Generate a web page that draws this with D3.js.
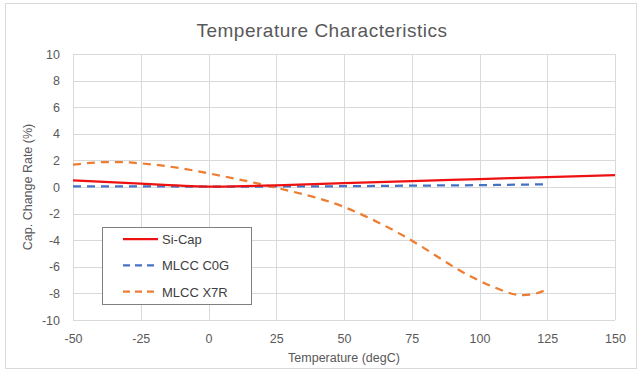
<!DOCTYPE html>
<html>
<head>
<meta charset="utf-8">
<script src="https://cdn.jsdelivr.net/npm/d3@7"></script>
<style>
  body { margin: 0; background: #fff; }
  svg { display: block; font-family: "Liberation Sans", Arial, sans-serif; }
</style>
</head>
<body>
<svg width="644" height="376"></svg>
<script>
// data
var xTicks = [-50, -25, 0, 25, 50, 75, 100, 125, 150];
var yTicks = [-10, -8, -6, -4, -2, 0, 2, 4, 6, 8, 10];

var siCapTemp = [-50, -25, 0, 25, 50, 75, 100, 125, 150];
var siCapVal  = [0.5, 0.25, 0.03, 0.13, 0.3, 0.45, 0.6, 0.75, 0.9];

var c0gTemp = [-50, -25, 0, 25, 50, 75, 100, 125];
var c0gVal  = [0.05, 0.05, 0.03, 0.04, 0.06, 0.1, 0.14, 0.2];

var x7rTemp = [-50, -40, -30, -20, -10, 0, 10, 20, 30, 40, 50, 60, 70, 80, 90, 100, 110, 115, 120, 125];
var x7rVal  = [1.68, 1.86, 1.85, 1.68, 1.4, 1.03, 0.62, 0.18, -0.3, -0.82, -1.5, -2.4, -3.45, -4.65, -5.95, -7.05, -7.9, -8.12, -8.05, -7.7];

var seriesNames = ["Si-Cap", "MLCC C0G", "MLCC X7R"];

var svg = d3.select("svg");
var margin = {top: 54, right: 29, bottom: 56, left: 73};
var W = 644, H = 376;

// chart frame
svg.append("rect")
  .attr("x", 5.5).attr("y", 3.5)
  .attr("width", 631).attr("height", 365)
  .attr("fill", "#fff").attr("stroke", "#d9d9d9");

var x = d3.scaleLinear().domain([-50, 150]).range([margin.left, W - margin.right]);
var y = d3.scaleLinear().domain([-10, 10]).range([H - margin.bottom, margin.top]);

// grid
var grid = svg.append("g");
grid.selectAll(".gx").data(xTicks).enter().append("line")
  .attr("x1", function(d){ return Math.round(x(d)) + 0.5; })
  .attr("x2", function(d){ return Math.round(x(d)) + 0.5; })
  .attr("y1", y(10)).attr("y2", y(-10))
  .attr("stroke", "#d9d9d9");
grid.selectAll(".gy").data(yTicks).enter().append("line")
  .attr("y1", function(d){ return Math.round(y(d)) + 0.5; })
  .attr("y2", function(d){ return Math.round(y(d)) + 0.5; })
  .attr("x1", x(-50)).attr("x2", x(150))
  .attr("stroke", "#d9d9d9");

// axes (labels only, lines hidden); plain hyphen for negatives
var fmt = function(d){ return String(d); };
var xAxis = svg.append("g")
  .attr("transform", "translate(0," + y(-10) + ")")
  .call(d3.axisBottom(x).tickValues(xTicks).tickFormat(fmt).tickSize(0).tickPadding(14));
var yAxis = svg.append("g")
  .attr("transform", "translate(" + x(-50) + ",0)")
  .call(d3.axisLeft(y).tickValues(yTicks).tickFormat(fmt).tickSize(0).tickPadding(13));
[xAxis, yAxis].forEach(function(a){
  a.select(".domain").remove();
  a.selectAll("text").attr("fill", "#595959").style("font-size", "12.5px")
    .style("font-family", "'Liberation Sans', Arial, sans-serif");
});

// lines
function lineOf(temps, vals) {
  return d3.line()
    .x(function(d, i){ return x(temps[i]); })
    .y(function(d){ return y(d); })
    .curve(d3.curveNatural)(vals);
}
svg.append("path").attr("d", lineOf(c0gTemp, c0gVal))
  .attr("fill", "none").attr("stroke", "#4472c4").attr("stroke-width", 2.25)
  .attr("stroke-dasharray", "8,6");
svg.append("path").attr("d", lineOf(x7rTemp, x7rVal))
  .attr("fill", "none").attr("stroke", "#ed7d31").attr("stroke-width", 2.25)
  .attr("stroke-dasharray", "8,6");
svg.append("path").attr("d", lineOf(siCapTemp, siCapVal))
  .attr("fill", "none").attr("stroke", "#ee1111").attr("stroke-width", 2.25);

// title
svg.append("text").attr("x", 322).attr("y", 37)
  .attr("text-anchor", "middle").attr("fill", "#595959")
  .style("font-size", "19px").style("letter-spacing", "0.5px")
  .text("Temperature Characteristics");

// axis titles
svg.append("text").attr("x", x(50)).attr("y", 362)
  .attr("text-anchor", "middle").attr("fill", "#595959")
  .style("font-size", "12.5px").text("Temperature (degC)");
svg.append("text").attr("transform", "translate(32," + y(0) + ") rotate(-90)")
  .attr("text-anchor", "middle").attr("fill", "#595959")
  .style("font-size", "12.5px").text("Cap. Change Rate (%)");

// legend
var lg = svg.append("g").attr("transform", "translate(102,227)");
lg.append("rect").attr("x", 0.5).attr("y", 0.5).attr("width", 149).attr("height", 77)
  .attr("fill", "#fff").attr("stroke", "#808080");
var lgStyle = [
  {color: "#ee1111", dash: null, w: 2.25},
  {color: "#4472c4", dash: "7,5", w: 2.25},
  {color: "#ed7d31", dash: "7,5", w: 2.25}
];
var rows = lg.selectAll(".row").data(seriesNames).enter().append("g")
  .attr("transform", function(d, i){ return "translate(0," + (12 + i * 26.3) + ")"; });
rows.append("line").attr("x1", 21).attr("x2", 56).attr("y1", 0).attr("y2", 0)
  .attr("stroke", function(d, i){ return lgStyle[i].color; })
  .attr("stroke-width", function(d, i){ return lgStyle[i].w; })
  .attr("stroke-dasharray", function(d, i){ return lgStyle[i].dash; });
rows.append("text").attr("x", 60).attr("y", 5)
  .attr("fill", "#404040").style("font-size", "13px")
  .text(function(d){ return d; });
</script>
</body>
</html>
